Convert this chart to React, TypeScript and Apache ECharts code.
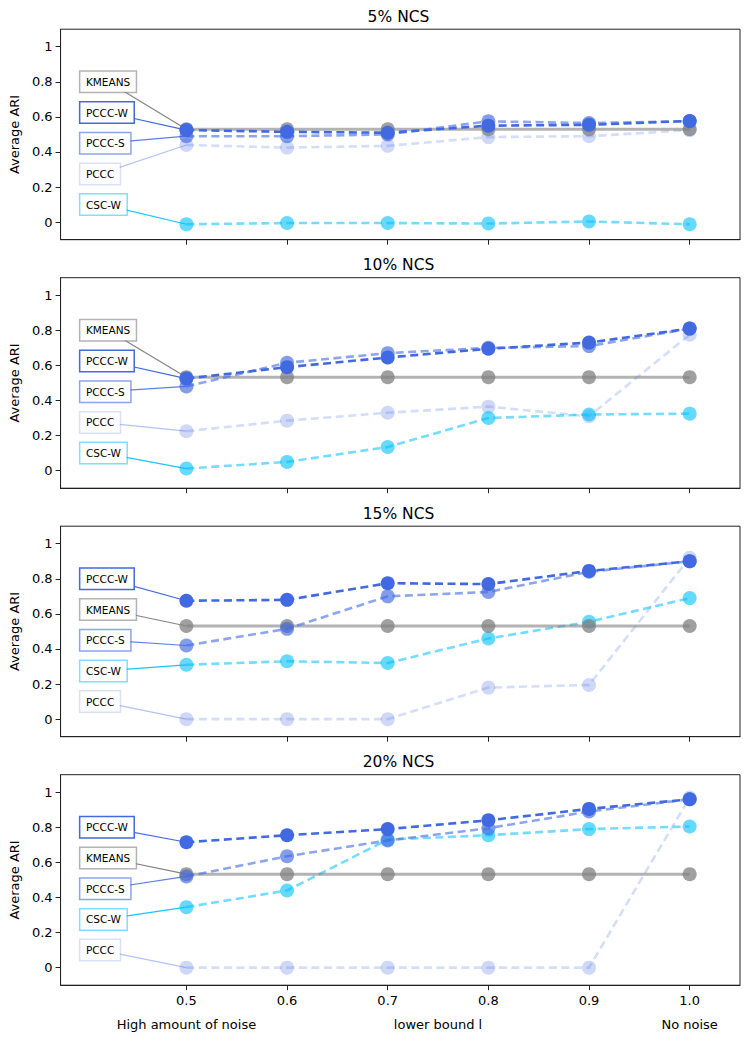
import React, { useEffect, useRef } from "react";
import * as echarts from "echarts";

// ---------- data ----------
const xValues = [0.5, 0.6, 0.7, 0.8, 0.9, 1.0];
const panelTitles = ["5% NCS", "10% NCS", "15% NCS", "20% NCS"];
const xTickValues = [0.5, 0.6, 0.7, 0.8, 0.9, 1.0];
const yTickValues = [0, 0.2, 0.4, 0.6, 0.8, 1];
const noiseLabels = ["High amount of noise", "lower bound l", "No noise"];
const noiseLabelValues = [0.5, 0.75, 1.0];

const kmeans = [
  [0.53, 0.53, 0.53, 0.53, 0.53, 0.53],
  [0.533, 0.533, 0.533, 0.533, 0.533, 0.533],
  [0.531, 0.531, 0.531, 0.531, 0.531, 0.531],
  [0.533, 0.533, 0.533, 0.533, 0.533, 0.533],
];
const pcccW = [
  [0.525, 0.515, 0.51, 0.55, 0.555, 0.577],
  [0.525, 0.59, 0.645, 0.695, 0.73, 0.81],
  [0.675, 0.68, 0.775, 0.77, 0.845, 0.9],
  [0.715, 0.755, 0.79, 0.84, 0.905, 0.96],
];
const pcccS = [
  [0.49, 0.49, 0.5, 0.575, 0.565, 0.575],
  [0.48, 0.615, 0.67, 0.7, 0.71, 0.81],
  [0.42, 0.515, 0.7, 0.725, 0.84, 0.9],
  [0.52, 0.635, 0.725, 0.795, 0.89, 0.96],
];
const pccc = [
  [0.44, 0.425, 0.435, 0.485, 0.49, 0.525],
  [0.225, 0.285, 0.33, 0.365, 0.31, 0.775],
  [0, 0, 0, 0.18, 0.195, 0.92],
  [0, 0, 0, 0, 0, 0.97],
];
const cscW = [
  [-0.012, -0.005, -0.005, -0.008, 0.004, -0.012],
  [0.012, 0.05, 0.135, 0.3, 0.32, 0.325],
  [0.31, 0.33, 0.32, 0.46, 0.555, 0.69],
  [0.345, 0.44, 0.73, 0.755, 0.79, 0.805],
];

const seriesData: Record<string, number[][]> = {
  KMEANS: kmeans,
  "PCCC-W": pcccW,
  "PCCC-S": pcccS,
  PCCC: pccc,
  "CSC-W": cscW,
};

// label boxes, top to bottom, per panel
const labelOrder = [
  ["KMEANS", "PCCC-W", "PCCC-S", "PCCC", "CSC-W"],
  ["KMEANS", "PCCC-W", "PCCC-S", "PCCC", "CSC-W"],
  ["PCCC-W", "KMEANS", "PCCC-S", "CSC-W", "PCCC"],
  ["PCCC-W", "KMEANS", "PCCC-S", "CSC-W", "PCCC"],
];
const labelSlots = [0.8, 0.625, 0.45, 0.275, 0.1];

// ---------- styles ----------
const FONT = '"DejaVu Sans", "Liberation Sans", sans-serif';
const drawOrder = ["PCCC", "CSC-W", "KMEANS", "PCCC-S", "PCCC-W"];
const styles: Record<string, any> = {
  KMEANS: { color: "#808080", lineOpacity: 0.6, markerOpacity: 0.75, dashed: false, width: 3, border: "rgba(128,128,128,0.6)", connector: "rgba(110,110,110,0.85)" },
  "PCCC-W": { color: "#4169E1", lineOpacity: 1, markerOpacity: 1, dashed: true, width: 2.6, border: "rgba(65,105,225,1)", connector: "rgba(65,105,225,1)" },
  "PCCC-S": { color: "#4169E1", lineOpacity: 0.6, markerOpacity: 0.65, dashed: true, width: 2.6, border: "rgba(65,105,225,0.6)", connector: "rgba(65,105,225,0.85)" },
  PCCC: { color: "#4169E1", lineOpacity: 0.22, markerOpacity: 0.25, dashed: true, width: 2.6, border: "rgba(65,105,225,0.2)", connector: "rgba(65,105,225,0.4)" },
  "CSC-W": { color: "#00BFFF", lineOpacity: 0.55, markerOpacity: 0.6, dashed: true, width: 2.6, border: "rgba(0,191,255,0.5)", connector: "rgba(0,191,255,0.9)" },
};

const GRID_LEFT = 57;
const GRID_WIDTH = 683;
const GRID_HEIGHT = 210.5;
const gridTop = (i: number) => 29.2 + 248.5 * i;
const LABEL_X = 0.3947; // data x of label box left edge
const TICK_FS = 13;

export default function App() {
  const ref = useRef<HTMLDivElement>(null);

  useEffect(() => {
    document.body.style.margin = "0";
    if (!ref.current) return;
    const chart = echarts.init(ref.current, undefined, { renderer: "svg" });

    const grids = panelTitles.map((_, i) => ({
      left: GRID_LEFT,
      width: GRID_WIDTH,
      top: gridTop(i),
      height: GRID_HEIGHT,
      show: true,
      borderColor: "#222",
      borderWidth: 1,
      backgroundColor: "transparent",
    }));

    const xAxes: any[] = panelTitles.map((_, i) => ({
      gridIndex: i,
      type: "value",
      min: 0.375,
      max: 1.05,
      axisLine: { show: true, onZero: false, lineStyle: { color: "#222", width: 1 } },
      axisTick: { show: true, customValues: xTickValues, length: 5, lineStyle: { color: "#222" } },
      axisLabel: {
        show: i === 3,
        customValues: xTickValues,
        formatter: (v: number) => v.toFixed(1),
        fontSize: TICK_FS,
        fontFamily: FONT,
        color: "#000",
        margin: 9,
      },
      splitLine: { show: false },
    }));
    xAxes.push({
      gridIndex: 3,
      type: "value",
      position: "bottom",
      offset: 25,
      min: 0.375,
      max: 1.05,
      axisLine: { show: false },
      axisTick: { show: false },
      splitLine: { show: false },
      axisLabel: {
        customValues: noiseLabelValues,
        formatter: (v: number) => {
          let best = 0;
          noiseLabelValues.forEach((nv, k) => {
            if (Math.abs(nv - v) < Math.abs(noiseLabelValues[best] - v)) best = k;
          });
          return noiseLabels[best];
        },
        fontSize: TICK_FS,
        fontFamily: FONT,
        color: "#000",
        margin: 8,
      },
    });

    const yAxes = panelTitles.map((_, i) => ({
      gridIndex: i,
      type: "value",
      min: -0.1,
      max: 1.1,
      name: "Average ARI",
      nameLocation: "middle",
      nameGap: 35,
      nameTextStyle: { fontSize: TICK_FS, fontFamily: FONT, color: "#000" },
      axisLine: { show: true, onZero: false, lineStyle: { color: "#222", width: 1 } },
      axisTick: { show: true, customValues: yTickValues, length: 5, lineStyle: { color: "#222" } },
      axisLabel: {
        customValues: yTickValues,
        formatter: (v: number) => (v === 0 ? "0" : v === 1 ? "1" : v.toFixed(1)),
        fontSize: TICK_FS,
        fontFamily: FONT,
        color: "#000",
        margin: 8,
      },
      splitLine: { show: false },
    }));

    const series: any[] = [];
    panelTitles.forEach((_, i) => {
      drawOrder.forEach((m, k) => {
        const s = styles[m];
        series.push({
          type: "line",
          name: m,
          xAxisIndex: i,
          yAxisIndex: i,
          data: xValues.map((x, j) => [x, seriesData[m][i][j]]),
          symbol: "circle",
          symbolSize: 14,
          showSymbol: true,
          silent: true,
          z: 2 + k,
          lineStyle: {
            color: s.color,
            opacity: s.lineOpacity,
            width: s.width,
            type: s.dashed ? [8, 4.5] : "solid",
          },
          itemStyle: { color: s.color, opacity: s.markerOpacity },
          emphasis: { disabled: true },
        });
      });
    });

    const titleGraphics = panelTitles.map((t, i) => ({
      type: "text",
      x: GRID_LEFT + GRID_WIDTH / 2,
      y: gridTop(i) - 12.5,
      style: {
        text: t,
        align: "center",
        verticalAlign: "middle",
        font: `15.5px ${FONT}`,
        fill: "#000",
      },
    }));

    chart.setOption({
      animation: false,
      grid: grids,
      xAxis: xAxes,
      yAxis: yAxes,
      series,
      graphic: { elements: titleGraphics },
    });

    // annotation boxes with connectors (positions via the chart's own scales)
    const canvas = document.createElement("canvas");
    const ctx = canvas.getContext("2d")!;
    const boxFont = `10.5px ${FONT}`;
    ctx.font = boxFont;
    const PADX = 5.5;
    const annot: any[] = [];
    panelTitles.forEach((_, i) => {
      labelOrder[i].forEach((m, slot) => {
        const s = styles[m];
        const anchor = chart.convertToPixel({ xAxisIndex: i, yAxisIndex: i } as any, [LABEL_X, labelSlots[slot]]) as number[];
        const target = chart.convertToPixel({ xAxisIndex: i, yAxisIndex: i } as any, [xValues[0], seriesData[m][i][0]]) as number[];
        const w = ctx.measureText(m).width;
        const cx = anchor[0] + PADX + w / 2;
        annot.push({
          type: "line",
          z: 0,
          shape: { x1: cx, y1: anchor[1], x2: target[0], y2: target[1] },
          style: { stroke: s.connector, lineWidth: 1.2 },
          silent: true,
        });
        annot.push({
          type: "text",
          z: 1,
          x: anchor[0],
          y: anchor[1],
          style: {
            text: m,
            align: "left",
            verticalAlign: "middle",
            font: boxFont,
            fill: "#000",
            backgroundColor: "#fff",
            borderColor: s.border,
            borderWidth: 1.5,
            padding: [5, PADX, 4, PADX],
          },
          silent: true,
        });
      });
    });

    chart.setOption({ graphic: { elements: [...titleGraphics, ...annot] } });

    return () => chart.dispose();
  }, []);

  return <div ref={ref} style={{ width: 748, height: 1041 }} />;
}
